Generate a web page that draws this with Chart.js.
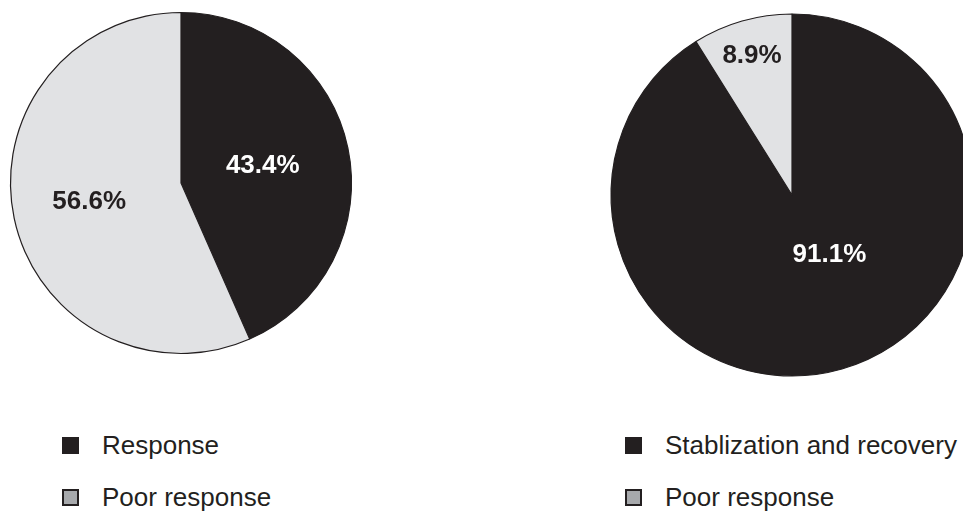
<!DOCTYPE html>
<html>
<head>
<meta charset="utf-8">
<script src="https://cdn.jsdelivr.net/npm/chart.js@4.4.1/dist/chart.umd.min.js"></script>
<style>
  html, body { margin: 0; padding: 0; background: #fff; overflow: hidden; width: 963px; height: 514px; }
  .pie { position: absolute; }
  #leftWrap { left: 0; top: 0; width: 362px; height: 366px; }
  #rightWrap { left: 592px; top: 0; width: 400px; height: 390px; }
  .legend { position: absolute; font-family: "Liberation Sans", Arial, sans-serif; font-size: 26px; color: #231f20; }
  .legend .row { position: absolute; white-space: nowrap; display: flex; align-items: center; }
  .legend .box { width: 17px; height: 17px; box-sizing: border-box; margin-right: 23px; }
</style>
</head>
<body>
<div id="leftWrap" class="pie"><canvas id="leftChart"></canvas></div>
<div id="rightWrap" class="pie"><canvas id="rightChart"></canvas></div>
<div id="leftLegend" class="legend" style="left:62px; top:0;"></div>
<div id="rightLegend" class="legend" style="left:625px; top:0;"></div>
<script>
// Данные
const leftLabels = ['Response', 'Poor response'];
const leftValues = [43.4, 56.6];
const rightLabels = ['Stablization and recovery', 'Poor response'];
const rightValues = [91.1, 8.9];

const DARK = '#231f20';
const LIGHT = '#e1e2e4';
const LEGEND_GRAY = '#a7a9ac';

// Подписи процентов внутри секторов
const percentLabels = {
  id: 'percentLabels',
  afterDatasetsDraw(chart, args, opts) {
    const ctx = chart.ctx;
    const meta = chart.getDatasetMeta(0);
    const values = chart.data.datasets[0].data;
    ctx.save();
    ctx.font = 'bold 26px "Liberation Sans", Arial, sans-serif';
    ctx.textAlign = 'center';
    ctx.textBaseline = 'middle';
    meta.data.forEach((arc, i) => {
      const mid = (arc.startAngle + arc.endAngle) / 2 + (opts.shift[i] || 0) * Math.PI / 180;
      const r = arc.outerRadius * opts.dist[i];
      const x = arc.x + Math.cos(mid) * r;
      const y = arc.y + Math.sin(mid) * r;
      ctx.fillStyle = opts.colors[i];
      ctx.fillText(values[i].toFixed(1) + '%', x, y);
    });
    ctx.restore();
  }
};

function createPie(id, labels, values, colors, radius, dist, shift, textColors) {
  return new Chart(document.getElementById(id), {
    type: 'pie',
    data: {
      labels: labels,
      datasets: [{
        data: values,
        backgroundColor: colors,
        borderColor: DARK,
        borderWidth: 1.2,
        hoverOffset: 0
      }]
    },
    options: {
      responsive: true,
      maintainAspectRatio: false,
      animation: false,
      radius: radius,
      layout: { padding: 0 },
      plugins: {
        legend: { display: false },
        tooltip: { enabled: false },
        percentLabels: { dist: dist, shift: shift, colors: textColors }
      }
    },
    plugins: [percentLabels]
  });
}

createPie('leftChart', leftLabels, leftValues, [DARK, LIGHT], 170.5, [0.49, 0.55], [0, 0], ['#ffffff', DARK]);
createPie('rightChart', rightLabels, rightValues, [DARK, LIGHT], 181, [0.39, 0.8], [-16, 0], ['#ffffff', DARK]);

// Легенды
function buildLegend(elId, labels) {
  const el = document.getElementById(elId);
  const boxStyles = [
    'background:' + DARK + ';',
    'background:' + LEGEND_GRAY + '; border:2px solid ' + DARK + ';'
  ];
  const rowsY = [430, 482];
  labels.forEach((label, i) => {
    const row = document.createElement('div');
    row.className = 'row';
    row.style.top = rowsY[i] + 'px';
    row.innerHTML = '<span class="box" style="' + boxStyles[i] + '"></span><span>' + label + '</span>';
    el.appendChild(row);
  });
}
buildLegend('leftLegend', leftLabels);
buildLegend('rightLegend', rightLabels);
</script>
</body>
</html>
